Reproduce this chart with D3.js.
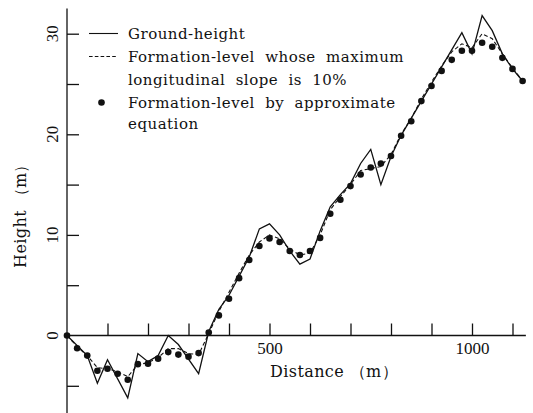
<!DOCTYPE html>
<html lang="en">
<head>
  <meta charset="UTF-8">
  <script src="https://cdn.jsdelivr.net/npm/d3@7/dist/d3.min.js"></script>
  <title>Ground height and formation level</title>
  <style>
    body { margin: 0; background: #fff; }
    svg { display: block; }
    text { font-family: 'DejaVu Serif', serif; fill: #111; }
    .num { font-family: 'Liberation Serif', serif; font-size: 17px; }
    .legend text { font-size: 15px; letter-spacing: 0.5px; word-spacing: 5px; }
    .axis path, .axis line { stroke: #111; stroke-width: 1.3; }
  </style>
</head>
<body>
  <script>
    // approximate-equation points, every 25 m
    const dotDist = [0, 25, 50, 75, 100, 125, 150, 175, 200, 225, 250, 275, 300, 325, 350, 375, 400, 425, 450, 475,
      500, 525, 550, 575, 600, 625, 650, 675, 700, 725, 750, 775, 800, 825, 850, 875, 900, 925, 950, 975,
      1000, 1025, 1050, 1075, 1100, 1125];
    const dotHeight = [0, -1.27, -2.0, -3.5, -3.3, -3.8, -4.4, -2.85, -2.8, -2.3, -1.65, -1.9, -2.1, -1.75, 0.3, 2.0, 3.65, 5.7, 7.5, 8.9,
      9.65, 9.3, 8.4, 8.0, 8.4, 9.7, 12.1, 13.5, 14.85, 16.0, 16.7, 17.1, 17.85, 19.85, 21.3, 23.3, 24.8, 26.3, 27.4, 28.3,
      28.3, 29.1, 28.7, 27.6, 26.5, 25.3];
    // formation level with max slope 10%
    const formHeight = [0, -1.1, -2.0, -3.2, -3.3, -3.6, -4.1, -2.9, -2.7, -2.2, -1.3, -1.3, -1.8, -1.9, 0.2, 2.4, 4.3, 6.2, 8.0, 9.3,
      10.0, 9.6, 8.6, 8.0, 8.2, 10.0, 12.5, 13.8, 15.0, 16.4, 16.6, 16.8, 18.0, 20.0, 21.6, 23.5, 25.2, 26.8, 28.2, 29.0,
      28.6, 30.0, 29.5, 28.0, 26.6, 25.3];
    // ground height
    const groundDist = [0, 50, 75, 100, 150, 175, 200, 225, 250, 275, 325, 350, 375, 400, 425, 450, 475, 500, 525, 550,
      575, 600, 625, 650, 675, 700, 725, 750, 775, 800, 825, 975, 1000, 1025, 1050, 1075, 1100, 1125];
    const groundHeight = [0, -2.0, -4.75, -2.4, -6.2, -1.8, -2.6, -2.0, 0, -0.9, -3.8, 0.4, 2.6, 4.0, 5.9, 7.8, 10.6, 11.1, 10.0, 8.4,
      7.1, 7.6, 10.4, 12.8, 14.0, 15.1, 17.1, 18.5, 15.0, 17.8, 19.9, 30.1, 28.0, 31.8, 30.3, 28.0, 26.5, 25.3];

    const xTicks = [100, 200, 300, 400, 500, 600, 700, 800, 900, 1000, 1100];
    const xLabels = [500, 1000];
    const yTicks = [-5, 5, 10, 15, 20, 25, 30];
    const yLabels = [0, 10, 20, 30];
    const legendItems = [
      { type: 'solid', lines: ['Ground-height'] },
      { type: 'dash', lines: ['Formation-level whose maximum', 'longitudinal slope is 10%'] },
      { type: 'dot', lines: ['Formation-level by approximate', 'equation'] }
    ];

    const width = 533, height = 413;
    const x = d3.scaleLinear().domain([0, 1125]).range([67, 67 + 1125 * 0.405]);
    const y = d3.scaleLinear().domain([0, 30]).range([335.5, 33.7]);

    const svg = d3.select('body').append('svg').attr('width', width).attr('height', height);

    // axes
    const axisX = d3.axisBottom(x).tickValues(xTicks).tickSize(-12).tickSizeOuter(0).tickPadding(6)
      .tickFormat(d => xLabels.includes(d) ? d : '');
    const gx = svg.append('g').attr('class', 'axis').attr('transform', `translate(0,${y(0)})`).call(axisX);
    gx.select('.domain').remove();
    gx.selectAll('.tick text').attr('class', 'num').attr('fill', '#111');
    svg.append('line').attr('x1', x(0)).attr('x2', x(1133)).attr('y1', y(0)).attr('y2', y(0))
      .attr('stroke', '#111').attr('stroke-width', 1.3);

    const axisY = d3.axisLeft(y).tickValues(yTicks).tickSize(-12).tickSizeOuter(0).tickFormat('');
    const gy = svg.append('g').attr('class', 'axis').attr('transform', `translate(${x(0)},0)`).call(axisY);
    gy.select('.domain').remove();
    svg.append('line').attr('x1', x(0)).attr('x2', x(0)).attr('y1', y(32.5)).attr('y2', height)
      .attr('stroke', '#111').attr('stroke-width', 1.3);

    svg.selectAll('.ylab').data(yLabels).enter().append('text')
      .attr('class', 'num ylab')
      .attr('transform', d => `translate(${x(0) - 9},${y(d)}) rotate(-90)`)
      .attr('text-anchor', 'middle')
      .text(d => d);

    svg.append('text').attr('x', 334).attr('y', 377).attr('text-anchor', 'middle')
      .style('font-size', '16px').style('letter-spacing', '0.4px').text('Distance （m）');
    svg.append('text').attr('transform', `translate(26,212) rotate(-90)`).attr('text-anchor', 'middle')
      .style('font-size', '16px').style('letter-spacing', '0.4px').text('Height （m）');

    // series
    const ground = groundDist.map((d, i) => [d, groundHeight[i]]);
    const form = dotDist.map((d, i) => [d, formHeight[i]]);
    const dots = dotDist.map((d, i) => [d, dotHeight[i]]);
    const line = d3.line().x(d => x(d[0])).y(d => y(d[1]));

    svg.append('path').datum(ground).attr('d', line)
      .attr('fill', 'none').attr('stroke', '#111').attr('stroke-width', 1.3).attr('stroke-linejoin', 'miter');
    svg.append('path').datum(form).attr('d', line)
      .attr('fill', 'none').attr('stroke', '#111').attr('stroke-width', 1.1).attr('stroke-dasharray', '4,2.5');
    svg.selectAll('.dot').data(dots).enter().append('circle')
      .attr('class', 'dot').attr('cx', d => x(d[0])).attr('cy', d => y(d[1])).attr('r', 3.3).attr('fill', '#111');

    // legend
    const lg = svg.append('g').attr('class', 'legend');
    const rowY = [38.5, 61.5, 84.5, 107.5, 129];
    let row = 0;
    legendItems.forEach(item => {
      const cy = rowY[row] - 5;
      if (item.type === 'solid') {
        lg.append('line').attr('x1', 89).attr('x2', 118).attr('y1', cy).attr('y2', cy).attr('stroke', '#111').attr('stroke-width', 1.1);
      } else if (item.type === 'dash') {
        lg.append('line').attr('x1', 89).attr('x2', 118).attr('y1', cy).attr('y2', cy).attr('stroke', '#111')
          .attr('stroke-width', 1.1).attr('stroke-dasharray', '3.6,2.2');
      } else {
        lg.append('circle').attr('cx', 101.5).attr('cy', cy).attr('r', 3.3).attr('fill', '#111');
      }
      item.lines.forEach(t => {
        lg.append('text').attr('x', 128).attr('y', rowY[row]).text(t);
        row++;
      });
    });
  </script>
</body>
</html>
